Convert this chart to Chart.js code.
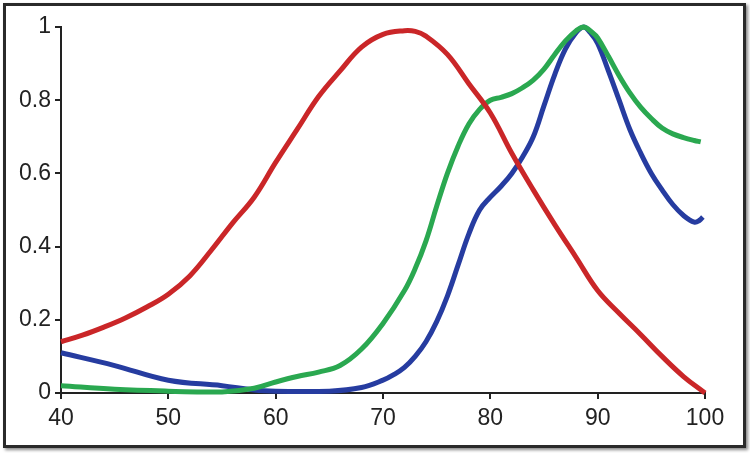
<!DOCTYPE html>
<html>
<head>
<meta charset="utf-8">
<script src="https://cdn.jsdelivr.net/npm/chart.js@4.4.0/dist/chart.umd.min.js"></script>
<style>
  html, body { margin: 0; padding: 0; background: #fff; }
  #wrap { position: relative; width: 750px; height: 453px; }
  #frame {
    position: absolute; left: 3px; top: 3px; width: 737px; height: 439px;
    border: 3px solid #2a2a2a; box-shadow: 2px 2px 3px #888;
  }
  #chart { position: absolute; left: 0; top: 0; }
</style>
</head>
<body>
<div id="wrap">
  <div id="frame"></div>
  <canvas id="chart" width="750" height="453"></canvas>
</div>
<script>
const xTicks = [40, 50, 60, 70, 80, 90, 100];
const yTicks = [0, 0.2, 0.4, 0.6, 0.8, 1];

const redX = [40, 42, 44, 46, 48, 50, 52, 54, 56, 58, 60, 62, 64, 66, 68, 70, 72, 73, 74, 76, 78, 80, 82, 84, 86, 88, 90, 92, 94, 96, 98, 100];
const redY = [0.14, 0.158, 0.18, 0.205, 0.235, 0.27, 0.32, 0.39, 0.465, 0.535, 0.63, 0.72, 0.81, 0.88, 0.945, 0.98, 0.99, 0.988, 0.975, 0.925, 0.845, 0.765, 0.655, 0.555, 0.46, 0.37, 0.28, 0.218, 0.16, 0.10, 0.045, 0.0];

const blueX = [40, 45, 50, 55, 58, 60, 65, 68, 70, 71, 72, 73, 74, 75, 76, 77, 78, 79, 80, 81, 82, 83, 84, 85, 86, 87, 88, 88.7, 89.3, 90, 91, 92, 93, 94, 95, 96, 97, 98, 99, 99.5, 99.8];
const blueY = [0.11, 0.075, 0.035, 0.02, 0.008, 0.005, 0.005, 0.015, 0.035, 0.05, 0.07, 0.10, 0.14, 0.195, 0.265, 0.35, 0.435, 0.50, 0.535, 0.565, 0.60, 0.645, 0.70, 0.785, 0.87, 0.94, 0.985, 1.0, 0.985, 0.955, 0.88, 0.80, 0.72, 0.656, 0.60, 0.555, 0.515, 0.485, 0.467, 0.472, 0.481];

const greenX = [40, 45, 50, 55, 58, 60, 62, 64, 66, 68, 70, 72, 73, 74, 75, 76, 77, 78, 79, 80, 81, 82, 83, 84, 85, 86, 87, 88, 88.7, 89.5, 90, 91, 92, 93, 94, 95, 96, 97, 98, 99, 99.6];
const greenY = [0.02, 0.01, 0.005, 0.003, 0.013, 0.03, 0.045, 0.057, 0.075, 0.12, 0.19, 0.28, 0.34, 0.415, 0.51, 0.60, 0.675, 0.735, 0.775, 0.80, 0.808, 0.818, 0.834, 0.855, 0.885, 0.925, 0.962, 0.99, 1.0, 0.985, 0.97, 0.92, 0.867, 0.82, 0.781, 0.75, 0.724, 0.708, 0.698, 0.69, 0.686];

function toPoints(xs, ys) {
  return xs.map((x, i) => ({ x: x, y: ys[i] }));
}

function lineSet(xs, ys, color) {
  return {
    data: toPoints(xs, ys),
    borderColor: color,
    borderWidth: 5,
    pointRadius: 0,
    tension: 0.4,
    fill: false,
    clip: false
  };
}

const tickFont = { family: 'Liberation Sans, Arial, sans-serif', size: 23 };

new Chart(document.getElementById('chart'), {
  type: 'line',
  data: {
    datasets: [
      lineSet(redX, redY, 'rgb(202, 38, 40)'),
      lineSet(greenX, greenY, 'rgb(42, 168, 80)'),
      lineSet(blueX, blueY, 'rgb(38, 60, 160)')
    ]
  },
  options: {
    responsive: false,
    animation: false,
    layout: { padding: { left: 0, top: 27, right: 45, bottom: 20 } },
    plugins: { legend: { display: false }, tooltip: { enabled: false } },
    scales: {
      x: {
        type: 'linear',
        min: 40,
        max: 100,
        afterBuildTicks: axis => { axis.ticks = xTicks.map(v => ({ value: v })); },
        afterFit: axis => { axis.height = 40; },
        border: { display: true, color: '#222', width: 2 },
        grid: { drawOnChartArea: false, drawTicks: true, tickLength: 6, color: '#222', lineWidth: 2 },
        ticks: { color: '#222', font: tickFont, padding: 6, maxRotation: 0, callback: v => String(v) }
      },
      y: {
        min: 0,
        max: 1,
        afterBuildTicks: axis => { axis.ticks = yTicks.map(v => ({ value: v })); },
        afterFit: axis => { axis.width = 61; },
        border: { display: true, color: '#222', width: 2 },
        grid: { drawOnChartArea: false, drawTicks: true, tickLength: 6, color: '#222', lineWidth: 2 },
        ticks: { color: '#222', font: tickFont, padding: 4, callback: v => String(v) }
      }
    }
  }
});
</script>
</body>
</html>
